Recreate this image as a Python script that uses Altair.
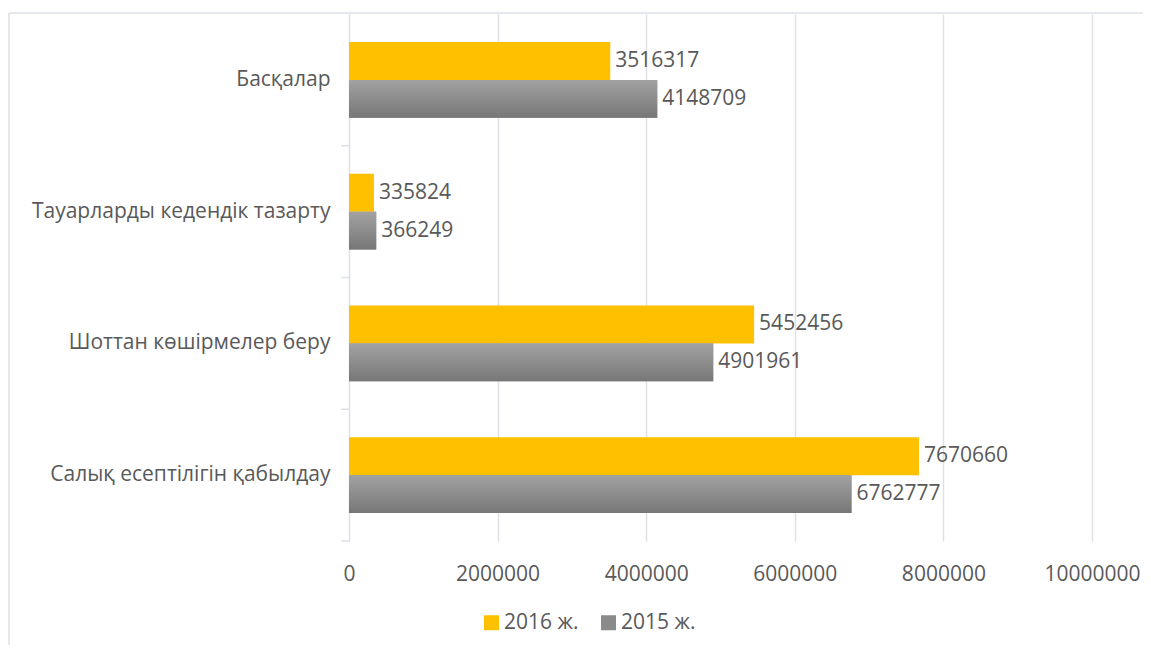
import altair as alt
import pandas as pd

categories = ["Басқалар", "Тауарларды кедендік тазарту", "Шоттан көшірмелер беру", "Салық есептілігін қабылдау"]
years = ["2016 ж.", "2015 ж."]
values_2016 = [3516317, 335824, 5452456, 7670660]
values_2015 = [4148709, 366249, 4901961, 6762777]
x_ticks = [0, 2000000, 4000000, 6000000, 8000000, 10000000]

rows = []
for c, v16, v15 in zip(categories, values_2016, values_2015):
    rows.append({"cat": c, "year": years[0], "value": v16})
    rows.append({"cat": c, "year": years[1], "value": v15})
df = pd.DataFrame(rows)

FONT = "Open Sans"
TXT = "#595959"
GRID = "#dde1e6"
W, H = 743, 527
PL, PT, PR, PB = 341, 6, 51, 104

y_enc = alt.Y("cat:N", sort=categories,
              scale=alt.Scale(domain=categories, paddingInner=0, paddingOuter=0),
              axis=alt.Axis(title=None, labelFont=FONT, labelFontSize=21, labelColor=TXT,
                            ticks=False, domain=False, labelPadding=19, labelLimit=400))
yoff_enc = alt.YOffset("year:N", sort=years,
                       scale=alt.Scale(domain=years, paddingInner=0, paddingOuter=0.737))
x_enc = alt.X("value:Q",
              scale=alt.Scale(domain=[0, 10000000], nice=False),
              axis=alt.Axis(title=None, values=x_ticks, format="d", labelFont=FONT,
                            labelFontSize=21, labelColor=TXT, grid=True, gridColor=GRID,
                            gridWidth=1.5, domain=False, ticks=False, labelPadding=22,
                            labelFlush=False, labelOverlap=False))

base = alt.Chart(df)

bars = base.mark_bar().encode(
    y=y_enc, yOffset=yoff_enc, x=x_enc,
    color=alt.Color("year:N", sort=years,
                    scale=alt.Scale(domain=years, range=["#FFC000", "#8a8a8a"]),
                    legend=alt.Legend(title=None, orient="none", direction="horizontal",
                                      legendX=132, legendY=598, symbolType="square",
                                      symbolSize=225, symbolStrokeWidth=0,
                                      labelFont=FONT, labelFontSize=21, labelColor=TXT,
                                      columnPadding=19, symbolOffset=0, labelOffset=2))
)

grad = alt.Gradient(gradient="linear", x1=0, x2=0, y1=0, y2=1,
                    stops=[alt.GradientStop(color="#a2a2a2", offset=0),
                           alt.GradientStop(color="#777777", offset=1)])
bars15 = base.transform_filter(alt.datum.year == years[1]).mark_bar(fill=grad).encode(
    y=alt.Y("cat:N", sort=categories), yOffset=alt.YOffset("year:N", sort=years), x="value:Q"
)

labels = base.mark_text(align="left", baseline="middle", dx=5, font=FONT, fontSize=21,
                        color=TXT).encode(
    y=alt.Y("cat:N", sort=categories), yOffset=alt.YOffset("year:N", sort=years),
    x="value:Q", text=alt.Text("value:Q", format="d")
)

yticks = base.transform_filter(alt.datum.year == years[0]).mark_rule(
    color=GRID, strokeWidth=1.5).encode(
    y=alt.Y("cat:N", sort=categories, bandPosition=1),
    x=alt.value(-8), x2=alt.value(0)
)

frame_left = alt.Chart(pd.DataFrame({"a": [0]})).mark_rule(color=GRID, strokeWidth=1.5).encode(
    x=alt.value(-340), y=alt.value(-1), y2=alt.value(H + PB)
)
frame_top = alt.Chart(pd.DataFrame({"a": [0]})).mark_rule(color=GRID, strokeWidth=1.5).encode(
    x=alt.value(-340), x2=alt.value(W + PR), y=alt.value(-1)
)

chart = alt.layer(bars, bars15, labels, yticks, frame_left, frame_top).properties(
    width=W, height=H,
    autosize=alt.AutoSizeParams(type="none"),
    padding={"left": PL, "top": PT, "right": PR, "bottom": PB},
    background="white"
).configure_view(stroke=None)

chart.save("out.html", embed_options={"renderer": "svg", "actions": False})
